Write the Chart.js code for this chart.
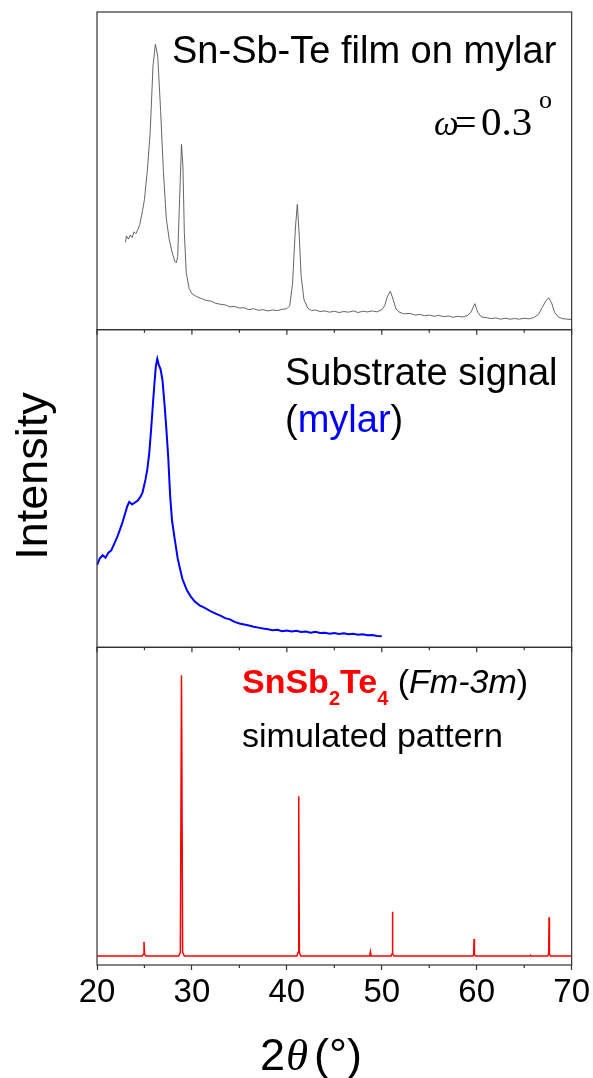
<!DOCTYPE html>
<html>
<head>
<meta charset="utf-8">
<script src="https://cdn.jsdelivr.net/npm/chart.js@4.4.1/dist/chart.umd.min.js"></script>
<style>
  html, body { margin: 0; padding: 0; background: #fff; }
  canvas { display: block; }
</style>
</head>
<body>
<canvas id="xrd" width="593" height="1078"></canvas>
<script>
// Sn-Sb-Te film on mylar (top panel, a.u.)
const filmAngle = [23.0, 23.1, 23.3, 23.5, 23.7, 23.9, 24.1, 24.3, 24.5, 24.8, 25.0, 25.3, 25.6, 25.9, 26.15, 26.4, 26.7, 27.0, 27.3, 27.6, 27.9, 28.2, 28.35, 28.5, 28.7, 28.9, 29.05, 29.2, 29.4, 29.7,
  30.0, 30.5, 31.0, 31.5, 32.0, 32.5, 33.0, 33.5, 34.0, 34.5, 35.0, 35.5, 36.0, 36.5, 37.0, 37.5, 38.0, 38.5, 39.0, 39.5,
  40.0, 40.3, 40.6, 40.9, 41.1, 41.3, 41.5, 41.8, 42.2, 42.6, 43.0, 43.5, 44.0, 44.5, 45.0, 45.5, 46.0, 46.5, 47.0, 47.5, 48.0, 48.5, 49.0, 49.5,
  50.0, 50.3, 50.6, 50.9, 51.2, 51.5, 51.8, 52.3, 53.0, 53.5, 54.0, 54.5, 55.0, 55.5, 56.0, 56.5, 57.0, 57.5, 58.0, 58.5, 59.0, 59.4, 59.8,
  60.1, 60.5, 61.0, 61.5, 62.0, 62.5, 63.0, 63.5, 64.0, 64.5, 65.0, 65.5, 66.0, 66.5, 66.9, 67.3, 67.6, 67.9, 68.2, 68.6, 69.0, 69.5, 70.0];
const filmIntensity = [27.5, 29.5, 28.5, 29.8, 29.0, 30.8, 30.2, 31.5, 33, 37.5, 41, 50, 62, 83, 89.8, 86, 69, 49.5, 35, 28.5, 24.5, 21.5, 21, 23, 41, 58.3, 51.5, 30.5, 18, 13,
  11.3, 10.4, 9.8, 9.2, 9.0, 8.3, 8.0, 7.8, 7.2, 7.3, 6.8, 6.9, 6.3, 6.6, 6.1, 6.3, 5.9, 6.2, 6.0, 6.4,
  6.6, 7.5, 14.5, 32, 39.4, 30, 17, 9.5, 6.8, 6.0, 6.2, 5.7, 5.9, 5.5, 5.8, 5.4, 5.7, 5.5, 5.9, 5.4, 5.8, 5.6, 5.9, 5.6,
  6.3, 7.5, 10.5, 12.1, 9.5, 6.5, 5.6, 5.0, 5.1, 4.6, 4.8, 4.4, 4.6, 4.2, 4.5, 4.1, 4.3, 3.9, 4.2, 4.0, 4.4, 5.5, 8.2,
  5.5, 4.0, 3.8, 3.5, 3.7, 3.3, 3.6, 3.3, 3.5, 3.3, 3.6, 3.4, 3.8, 4.8, 7.0, 9.2, 10, 8.3, 5.5, 4.0, 3.5, 3.3, 3.2];

// substrate signal, mylar (middle panel)
const mylarAngle = [20.0, 20.3, 20.6, 20.9, 21.2, 21.5, 21.8, 22.1, 22.4, 22.7, 23.0, 23.2, 23.4, 23.7, 24.0, 24.3, 24.6, 24.8, 25.1, 25.3, 25.5, 25.7, 25.9,
  26.05, 26.2, 26.35, 26.5, 26.7, 26.9, 27.1, 27.3, 27.5, 27.7, 27.9, 28.2, 28.5, 28.7, 29.0, 29.2, 29.5, 29.9,
  30.3, 30.8, 31.3, 31.9, 32.5, 33.0, 33.5, 34.0, 34.5, 35.0, 35.5, 36.0, 36.5, 37.0, 37.5, 38.0, 38.5, 39.0, 39.5,
  40.0, 40.5, 41.0, 41.5, 42.0, 42.5, 43.0, 43.5, 44.0, 44.5, 45.0, 45.5, 46.0, 46.5, 47.0, 47.5, 48.0, 48.5, 49.0, 49.5, 50.0];
const mylarIntensity = [25.9, 28, 29, 28.2, 29.8, 30.5, 32.5, 34.5, 36.9, 39.5, 42.5, 44.5, 45.8, 45.0, 45.6, 46.2, 47.5, 48.8, 52.7, 56, 61, 68.5, 77,
  83, 88.5, 90.8, 89, 87.5, 84, 77, 69, 60, 48, 40, 33.8, 28, 25.3, 21.5, 20, 17.8, 15.9,
  14.4, 13.2, 12.5, 11.5, 10.6, 10.0, 9.2, 8.8, 8.0, 7.5, 7.2, 6.9, 6.5, 6.2, 5.9, 5.7, 5.4, 5.5, 5.1,
  5.3, 5.0, 5.2, 4.8, 5.0, 4.6, 4.9, 4.5, 4.6, 4.3, 4.5, 4.2, 4.4, 4.1, 4.3, 4.0, 4.1, 3.8, 3.9, 3.6, 3.5];

// SnSb2Te4 (Fm-3m) simulated pattern (bottom panel)
const simAngle = [20, 24.75, 24.88, 24.95, 25.02, 25.15, 28.6, 28.78, 28.9, 29.02, 29.2, 41.05, 41.18, 41.25, 41.32, 41.45,
  48.72, 48.8, 48.88, 50.98, 51.08, 51.12, 51.16, 51.28, 59.6, 59.68, 59.72, 59.76, 59.86, 65.6, 65.68, 65.76,
  67.48, 67.58, 67.62, 67.66, 67.76, 70];
const simIntensity = [2.8, 2.8, 3.3, 7.3, 3.3, 2.8, 2.8, 4.0, 91.2, 4.0, 2.8, 2.8, 4.0, 53.1, 4.0, 2.8,
  2.8, 4.2, 2.8, 2.8, 3.5, 16.8, 3.5, 2.8, 2.8, 3.3, 8.2, 3.3, 2.8, 2.8, 3.1, 2.8,
  2.8, 3.5, 15, 3.5, 2.8, 2.8];

const tickLabels = [20, 30, 40, 50, 60, 70];

const toPoints = (xs, ys) => xs.map((x, i) => ({ x: x, y: ys[i] }));

const SANS = '"Liberation Sans", Arial, sans-serif';
const SERIF = '"Liberation Serif", "Times New Roman", serif';

// draws pieces of text one after the other on one baseline
function textRun(ctx, x, y, parts) {
    let cx = x;
    parts.forEach(p => {
        ctx.font = p.font;
        ctx.fillStyle = p.color || '#000';
        if (p.at !== undefined) cx = p.at;
        ctx.fillText(p.t, cx, y + (p.dy || 0));
        cx += ctx.measureText(p.t).width;
    });
}

const panelFrames = {
    id: 'panelFrames',
    afterDraw(chart) {
        const ctx = chart.ctx;
        const xs = chart.scales.x;
        const { left, right } = chart.chartArea;
        const panels = ['yFilm', 'yMylar', 'ySim'].map(id => chart.scales[id]);
        ctx.save();
        ctx.strokeStyle = '#333';
        ctx.lineWidth = 1.2;
        panels.forEach(s => ctx.strokeRect(left, s.top, right - left, s.bottom - s.top));

        // ticks pointing down from the panel joins, short minor ticks below the bottom axis
        ctx.beginPath();
        xs.ticks.forEach(t => {
            const px = xs.getPixelForValue(t.value);
            const major = tickLabels.includes(t.value);
            [panels[1].top, panels[2].top].forEach(y0 => {
                ctx.moveTo(px, y0);
                ctx.lineTo(px, y0 + (major ? 5 : 3));
            });
            if (!major) {
                ctx.moveTo(px, xs.top);
                ctx.lineTo(px, xs.top + 3);
            }
        });
        ctx.stroke();

        ctx.textAlign = 'left';
        ctx.textBaseline = 'alphabetic';

        textRun(ctx, 172, 63, [{ t: 'Sn-Sb-Te film on mylar', font: '38px ' + SANS }]);
        textRun(ctx, 434, 135, [
            { t: '\u03c9', font: 'italic 35px ' + SERIF },
            { t: '=', font: '38px ' + SERIF, at: 455 },
            { t: '0.3', font: '41px ' + SERIF, at: 481 },
            { t: 'o', font: '26px ' + SERIF, at: 539, dy: -27 }
        ]);

        textRun(ctx, 285, 385, [{ t: 'Substrate signal', font: '38px ' + SANS }]);
        textRun(ctx, 285, 432, [
            { t: '(', font: '38px ' + SANS },
            { t: 'mylar', font: '38px ' + SANS, color: '#0000ff' },
            { t: ')', font: '38px ' + SANS }
        ]);

        textRun(ctx, 242, 693, [
            { t: 'SnSb', font: 'bold 34px ' + SANS, color: '#ff0000' },
            { t: '2', font: 'bold 20px ' + SANS, color: '#ff0000', dy: 12 },
            { t: 'Te', font: 'bold 34px ' + SANS, color: '#ff0000' },
            { t: '4', font: 'bold 20px ' + SANS, color: '#ff0000', dy: 12 },
            { t: ' (', font: '34px ' + SANS },
            { t: 'Fm-3m', font: 'italic 34px ' + SANS },
            { t: ')', font: '34px ' + SANS }
        ]);
        textRun(ctx, 242, 747, [{ t: 'simulated pattern', font: '34px ' + SANS }]);

        // axis titles
        textRun(ctx, 260, 1070, [
            { t: '2', font: '45px ' + SANS },
            { t: '\u03b8', font: 'italic 45px ' + SERIF, at: 286 },
            { t: '(\u00b0)', font: '45px ' + SANS, at: 314 }
        ]);
        ctx.translate(46.7, 476);
        ctx.rotate(-Math.PI / 2);
        ctx.textAlign = 'center';
        ctx.font = '45px ' + SANS;
        ctx.fillStyle = '#000';
        ctx.fillText('Intensity', 0, 0);
        ctx.restore();
    }
};

const panelAxis = (weight) => ({
    type: 'linear', display: false, min: 0, max: 100,
    position: 'left', stack: 'xrd', stackWeight: 1, weight: weight
});

new Chart(document.getElementById('xrd').getContext('2d'), {
    type: 'line',
    data: {
        datasets: [{
            label: 'Sn-Sb-Te film on mylar',
            data: toPoints(filmAngle, filmIntensity),
            yAxisID: 'yFilm',
            borderColor: '#555555',
            borderWidth: 0.9,
            pointRadius: 0,
            tension: 0,
            fill: false
        }, {
            label: 'Substrate signal (mylar)',
            data: toPoints(mylarAngle, mylarIntensity),
            yAxisID: 'yMylar',
            borderColor: '#0000ff',
            borderWidth: 2,
            pointRadius: 0,
            tension: 0,
            fill: false
        }, {
            label: 'SnSb2Te4 (Fm-3m) simulated pattern',
            data: toPoints(simAngle, simIntensity),
            yAxisID: 'ySim',
            borderColor: '#ff0000',
            borderWidth: 1.5,
            pointRadius: 0,
            tension: 0,
            fill: false
        }]
    },
    options: {
        responsive: false,
        animation: false,
        layout: { padding: { left: 97, right: 21, top: 12, bottom: 0 } },
        plugins: {
            legend: { display: false },
            tooltip: { enabled: false }
        },
        scales: {
            x: {
                type: 'linear',
                min: 20,
                max: 70,
                border: { display: false },
                grid: {
                    drawOnChartArea: false,
                    drawTicks: true,
                    tickLength: 5,
                    tickWidth: 1.2,
                    tickColor: (c) => tickLabels.includes(c.tick && c.tick.value) ? '#333' : 'rgba(0,0,0,0)'
                },
                ticks: {
                    stepSize: 5,
                    autoSkip: false,
                    maxRotation: 0,
                    padding: 3,
                    color: '#000',
                    font: { family: SANS, size: 33, lineHeight: 1.2 },
                    callback: (v) => tickLabels.includes(v) ? String(v) : ''
                },
                afterFit: (s) => { s.height = 113; }
            },
            yFilm: panelAxis(3),
            yMylar: panelAxis(2),
            ySim: panelAxis(1)
        }
    },
    plugins: [panelFrames]
});
</script>
</body>
</html>
